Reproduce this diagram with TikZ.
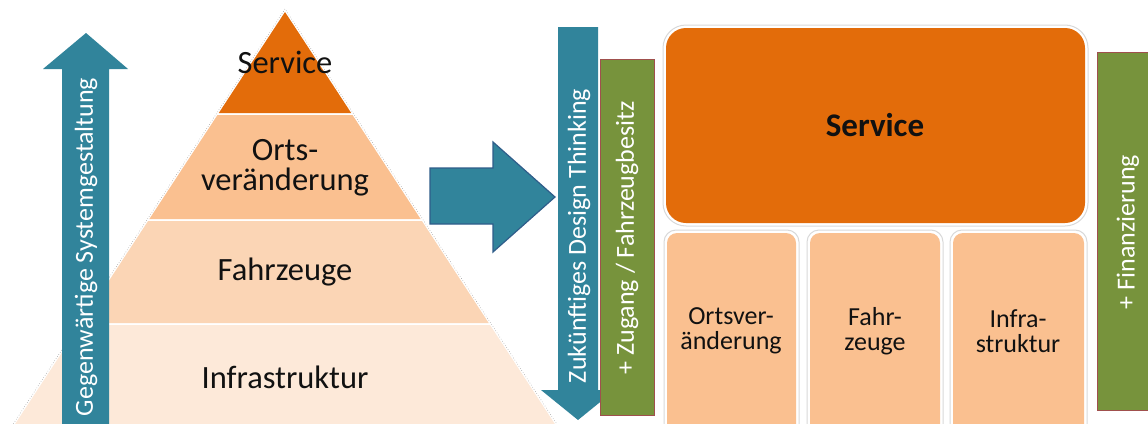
\documentclass[tikz,border=0pt]{standalone}
\usepackage{fontspec}
\setmainfont{Carlito}
\definecolor{tealA}{HTML}{31849B}
\definecolor{tealEdge}{HTML}{2F5D8A}
\definecolor{orng}{HTML}{E36C0A}
\definecolor{peachA}{HTML}{FAC090}
\definecolor{peachB}{HTML}{FBD5B5}
\definecolor{peachC}{HTML}{FDE9D9}
\definecolor{grn}{HTML}{77933C}
\definecolor{grnEdge}{HTML}{A0504D}
\definecolor{txt}{HTML}{111111}
\tikzset{
  pyrtext/.style={text=txt,align=center,font=\fontsize{32.5}{30}\selectfont,inner sep=0pt},
  vlabel/.style={text=white,rotate=90,font=\fontsize{26}{26}\selectfont,inner sep=0pt},
  boxtext/.style={text=txt,align=center,font=\fontsize{26}{25}\selectfont,inner sep=0pt},
  outerbox/.style={draw=black!15,line width=1pt,fill=white},
  greenbar/.style={fill=grn,draw=grnEdge,line width=0.8pt},
}
\begin{document}
\begin{tikzpicture}[x=1pt,y=-1pt]
\clip (0,0) rectangle (1148,423);
\useasboundingbox (0,0) rectangle (1148,423);
\fill[white] (0,0) rectangle (1148,423);
% pyramid outline
\draw[white,line width=2pt] (8,432) -- (285,9) -- (562,432);
\draw[black!45,dotted,line width=0.5pt] (8,432) -- (285,9) -- (562,432);
% pyramid bands
\fill[orng] (285,12) -- (351.2,113) -- (218.8,113) -- cycle;
\fill[peachA] (217.5,115) -- (352.5,115) -- (420.6,219) -- (149.4,219) -- cycle;
\fill[peachB] (148.1,221) -- (421.9,221) -- (488.7,323) -- (81.3,323) -- cycle;
\fill[peachC] (80,325) -- (490,325) -- (558.8,430) -- (11.2,430) -- cycle;
\node[pyrtext] (pService) at (285,62) {Service};
\node[pyrtext] (pOrts) at (285,168) {Orts-\\veränderung};
\node[pyrtext] (pFahr) at (285,272) {Fahrzeuge};
\node[pyrtext] (pInfra) at (285,377) {Infrastruktur};
% up arrow
\fill[tealA] (86,33) -- (128,69) -- (109,69) -- (109,430) -- (62,430) -- (62,69) -- (43,69) -- cycle;
\node[vlabel] (gegen) at (86,247) {Gegenwärtige Systemgestaltung};
% big right arrow
\filldraw[fill=tealA,draw=tealEdge,line width=1.2pt,line join=miter]
  (430,168) -- (493,168) -- (493,142) -- (555,197) -- (493,252) -- (493,224) -- (430,224) -- cycle;
% down arrow
\fill[tealA] (558,27) -- (598,27) -- (598,390) -- (615,390) -- (578,420) -- (541,390) -- (558,390) -- cycle;
\node[vlabel] (zukunft) at (579,236) {Zukünftiges Design Thinking};
% green bars
\filldraw[greenbar] (600,59) rectangle (654,415);
\node[vlabel] (zugang) at (627,238) {+ Zugang / Fahrzeugbesitz};
\filldraw[greenbar] (1097,52) rectangle (1170,410);
\node[vlabel] (finanz) at (1128,232) {+ Finanzierung};
% service box
\filldraw[outerbox,rounded corners=23pt] (663,25) rectangle (1088,226);
\fill[orng,rounded corners=20pt] (666,28) rectangle (1085,223);
\node[text=txt,font=\fontsize{33}{33}\selectfont\bfseries,inner sep=0pt] (sService) at (875,125) {Service};
% bottom boxes
\filldraw[outerbox,rounded corners=12pt] (664,230) rectangle (799,445);
\fill[peachA,rounded corners=10pt] (667,233) rectangle (796,445);
\filldraw[outerbox,rounded corners=12pt] (807,230) rectangle (943,445);
\fill[peachA,rounded corners=10pt] (810,233) rectangle (940,445);
\filldraw[outerbox,rounded corners=12pt] (950,230) rectangle (1087,445);
\fill[peachA,rounded corners=10pt] (953,233) rectangle (1084,445);
\node[boxtext] (bOrts) at (731,331) {Ortsver-\\änderung};
\node[boxtext] (bFahr) at (875,331) {Fahr-\\zeuge};
\node[boxtext] (bInfra) at (1018,331) {Infra-\\struktur};
\end{tikzpicture}
\end{document}
